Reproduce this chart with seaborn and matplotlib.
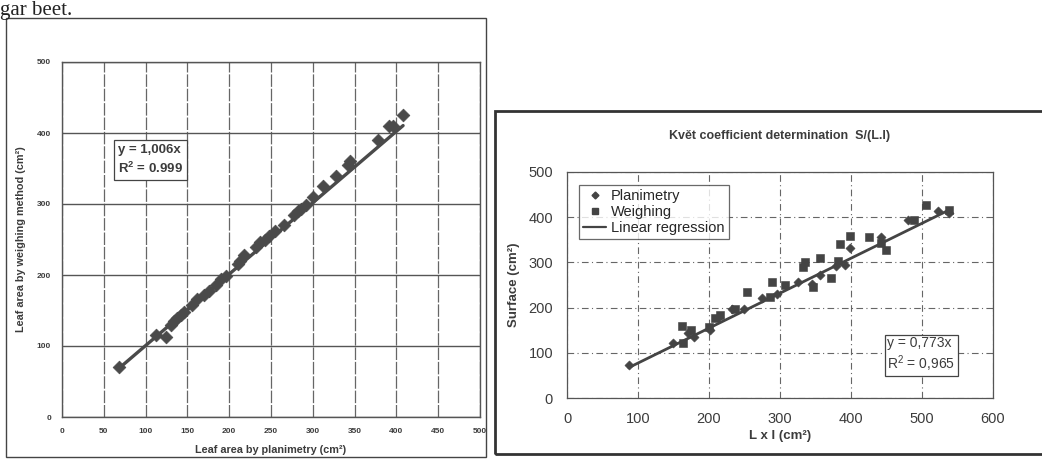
import matplotlib
matplotlib.use("Agg")
import matplotlib.pyplot as plt
import seaborn as sns
import numpy as np
import pandas as pd
from matplotlib.patches import Rectangle
from matplotlib.lines import Line2D

# ---------------- data ----------------
# Left chart: planimetry vs weighing
left_x = [68, 112, 124, 130, 134, 138, 142, 146, 155, 162, 170, 176, 184, 190, 196,
          210, 213, 218, 232, 237, 243, 248, 255, 265, 278, 282, 286, 292, 300, 312,
          328, 342, 345, 378, 391, 396, 408]
left_y = [70, 115, 113, 130, 135, 139, 143, 148, 158, 166, 172, 178, 186, 194, 198,
          215, 220, 228, 240, 247, 250, 255, 262, 270, 285, 290, 293, 298, 310, 326,
          340, 355, 360, 390, 410, 410, 425]
left_slope = 1.006
left_eq = "y = 1,006x\nR$^2$ = 0.999"
left_xticks = [0, 50, 100, 150, 200, 250, 300, 350, 400, 450, 500]
left_yticks = [0, 100, 200, 300, 400, 500]

# Right chart: L x l vs surface
plan_x = [87, 149, 170, 179, 202, 214, 233, 249, 275, 296, 326, 345, 356, 379, 391,
          398, 442, 480, 522, 538]
plan_y = [72, 121, 143, 136, 150, 180, 198, 197, 222, 229, 256, 252, 273, 291, 295,
          332, 356, 393, 414, 410]
weigh_x = [162, 163, 174, 200, 209, 216, 237, 254, 286, 289, 307, 333, 335, 347, 356,
           372, 382, 384, 398, 426, 442, 449, 489, 505, 538]
weigh_y = [160, 121, 150, 158, 176, 184, 198, 234, 223, 256, 250, 289, 300, 245, 310,
           265, 302, 340, 358, 357, 342, 327, 393, 426, 416]
right_slope = 0.773
right_eq = "y = 0,773x\nR$^2$ = 0,965"
right_xticks = [0, 100, 200, 300, 400, 500, 600]
right_yticks = [0, 100, 200, 300, 400, 500]
right_title = "Květ coefficient determination  S/(L.l)"

# ---------------- style ----------------
sns.set_style("white")
plt.rcParams['font.family'] = ['Liberation Sans', 'DejaVu Sans']
plt.rcParams['mathtext.default'] = 'regular'

W, H = 1042, 459
fig = plt.figure(figsize=(W / 100, H / 100), dpi=100)
fig.patch.set_facecolor("white")

def fx(px):
    return px / W

def fy(py):
    return 1 - py / H

ink = "#3c3c3c"

# header text fragment from the scanned page
fig.text(fx(0), fy(15), "gar beet.", family=["Liberation Serif", "DejaVu Serif"],
         fontsize=15, color="#222", ha="left", va="baseline")

# frames of the two figures
fig.add_artist(Rectangle((fx(6), fy(457)), fx(480), (457 - 18) / H, fill=False,
                         transform=fig.transFigure, lw=1.0, ec="#444"))
fig.add_artist(Rectangle((fx(495), fy(454)), fx(560), (454 - 111) / H, fill=False,
                         transform=fig.transFigure, lw=2.0, ec="#333"))

# ---------------- left chart ----------------
axL = fig.add_axes([fx(62), fy(417), fx(418), (417 - 62) / H])
dfL = pd.DataFrame({"planimetry": left_x, "weighing": left_y})
xl = np.array([min(left_x), max(left_x)])
sns.lineplot(x=xl, y=left_slope * xl, ax=axL, color="#4a4a4a", lw=2.4, zorder=3)
sns.scatterplot(data=dfL, x="planimetry", y="weighing", ax=axL, marker="D", s=42,
                color="#4a4a4a", edgecolor="#4a4a4a", zorder=4)
axL.set_xlim(0, 500)
axL.set_ylim(0, 500)
axL.set_xticks(left_xticks)
axL.set_yticks(left_yticks)
axL.set_xticklabels([str(v) for v in left_xticks], fontsize=6, fontweight="bold", color=ink)
axL.set_yticklabels([str(v) for v in left_yticks], fontsize=6, fontweight="bold", color=ink)
axL.tick_params(length=3, width=0.8, color=ink, pad=5)
axL.grid(True, axis="y", color="#555", lw=1.0)
axL.grid(True, axis="x", color="#666", lw=0.9, ls=(0, (10, 1.5)))
for s in axL.spines.values():
    s.set_color("#555")
    s.set_linewidth(1.0)
axL.set_xlabel("Leaf area by planimetry (cm²)", fontsize=7.8, fontweight="bold",
               color=ink, labelpad=7)
axL.set_ylabel("Leaf area by weighing method (cm²)", fontsize=7.8, fontweight="bold",
               color=ink, labelpad=8)
axL.text(0.135, 0.77, left_eq, transform=axL.transAxes, fontsize=9.5,
         fontweight="bold", color=ink, va="top", ha="left", linespacing=1.45,
         bbox=dict(boxstyle="square,pad=0.3", fc="white", ec="#444", lw=0.9))

# ---------------- right chart ----------------
axR = fig.add_axes([fx(567), fy(398), fx(426), (398 - 172) / H])
dfP = pd.DataFrame({"x": plan_x, "y": plan_y})
dfW = pd.DataFrame({"x": weigh_x, "y": weigh_y})
xr = np.array([min(plan_x + weigh_x), max(plan_x + weigh_x)])
sns.lineplot(x=xr, y=right_slope * xr, ax=axR, color="#444", lw=2.0, zorder=3)
sns.scatterplot(data=dfP, x="x", y="y", ax=axR, marker="D", s=22, color="#444",
                edgecolor="#444", zorder=4)
sns.scatterplot(data=dfW, x="x", y="y", ax=axR, marker="s", s=26, color="#444",
                edgecolor="#444", zorder=4)
axR.set_xlim(0, 600)
axR.set_ylim(0, 500)
axR.set_xticks(right_xticks)
axR.set_yticks(right_yticks)
axR.set_xticklabels([str(v) for v in right_xticks], fontsize=10.5, color=ink)
axR.set_yticklabels([str(v) for v in right_yticks], fontsize=10.5, color=ink)
axR.tick_params(direction="inout", length=6, width=0.8, color=ink, pad=7)
axR.grid(True, color="#666", lw=0.8, ls=(0, (6, 3, 1, 3)))
for s in axR.spines.values():
    s.set_color("#555")
    s.set_linewidth(0.9)
axR.set_xlabel("L x l (cm²)", fontsize=9.5, fontweight="bold", color=ink, labelpad=3)
axR.set_ylabel("Surface (cm²)", fontsize=9.5, fontweight="bold", color=ink, labelpad=6)
axR.set_title(right_title, fontsize=9, fontweight="bold", color=ink, pad=24)

handles = [Line2D([], [], marker="D", ls="none", color="#444", markersize=3.5),
           Line2D([], [], marker="s", ls="none", color="#444", markersize=4),
           Line2D([], [], color="#444", lw=1.6)]
leg = axR.legend(handles, ["Planimetry", "Weighing", "Linear regression"],
                 loc="upper left", bbox_to_anchor=(0.01, 0.975), fontsize=10.5,
                 frameon=True, fancybox=False, edgecolor="#444", handlelength=1.6,
                 handletextpad=0.3, borderpad=0.3, labelspacing=0.12)
leg.get_frame().set_linewidth(0.9)

axR.text(0.752, 0.275, right_eq, transform=axR.transAxes, fontsize=10, color=ink,
         va="top", ha="left", linespacing=1.2,
         bbox=dict(boxstyle="square,pad=0.2", fc="white", ec="#444", lw=0.9))

fig.savefig("out.png", dpi=100, facecolor="white")
